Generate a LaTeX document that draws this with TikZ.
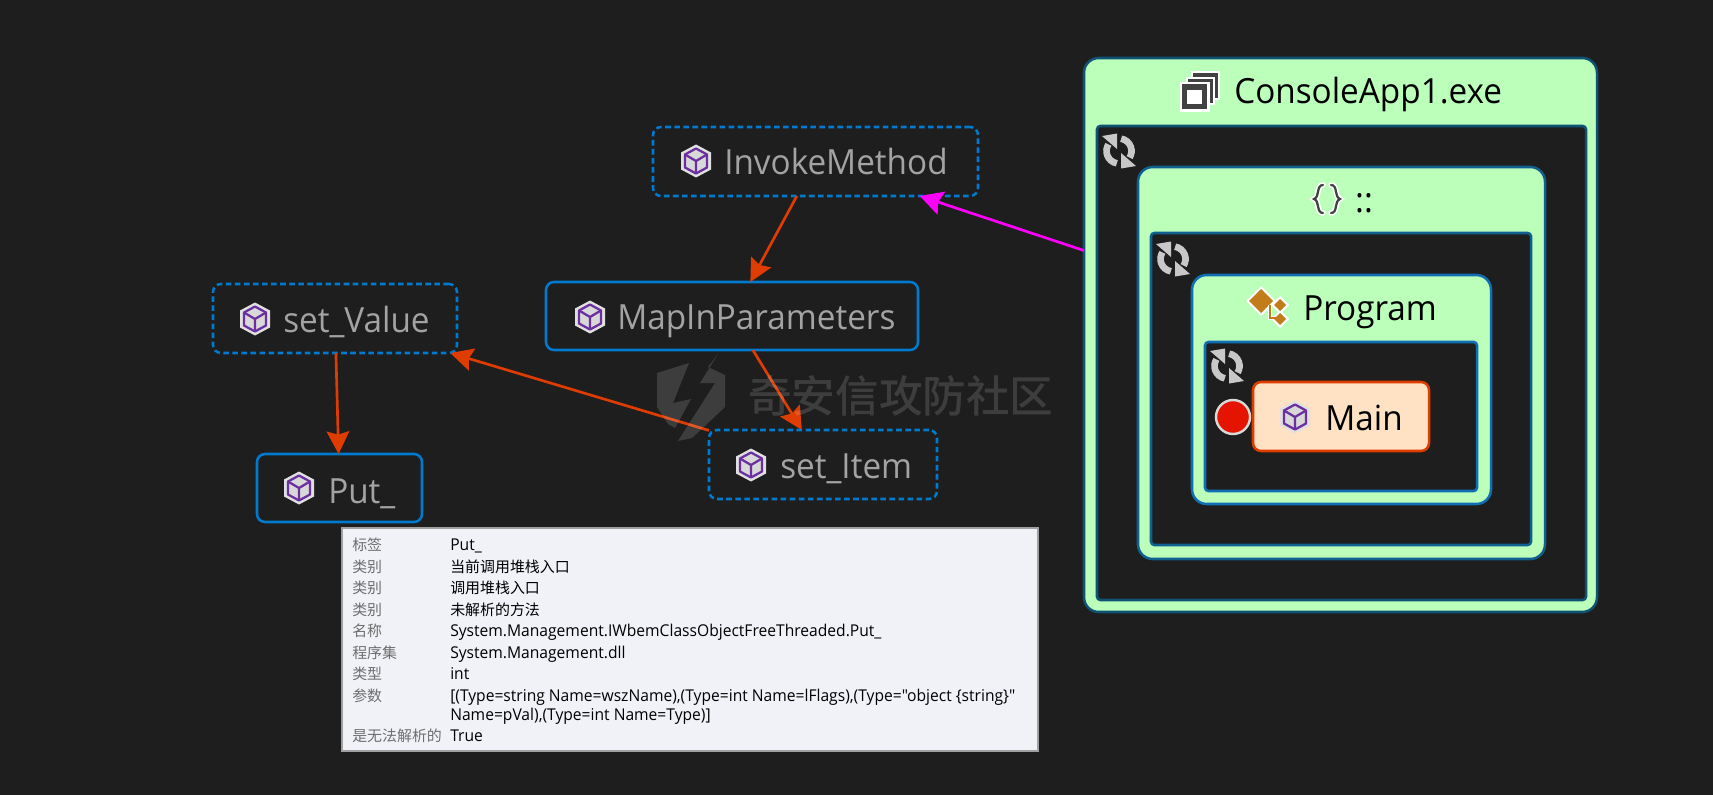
\documentclass[tikz,border=0pt]{standalone}
\usepackage{fontspec}
\setmainfont{Open Sans}[FakeStretch=0.96]
\newfontfamily\plainq{Open Sans}[FakeStretch=0.96]
\newfontfamily\cjk{Noto Sans CJK SC}
\newfontfamily\cjkb{Noto Sans CJK SC Medium}
\usetikzlibrary{arrows.meta,fit}
\definecolor{bgdark}{HTML}{1E1E1E}
\definecolor{nodeblue}{HTML}{007ACC}
\definecolor{edgered}{HTML}{DE3C00}
\definecolor{edgepink}{HTML}{FF00FF}
\definecolor{greenfill}{HTML}{BBFFBB}
\definecolor{bordA}{HTML}{0F5273}
\definecolor{bordB}{HTML}{0F5F8F}
\definecolor{bordC}{HTML}{106EB4}
\definecolor{orangefill}{HTML}{FFE1C4}
\definecolor{dimtext}{HTML}{A3A3A3}
\definecolor{cubepurple}{HTML}{6B2FA0}
\definecolor{cubefill}{HTML}{D8D8D8}
\definecolor{iconbrown}{HTML}{C27D1A}
\definecolor{icondark}{HTML}{424242}
\definecolor{refreshgrey}{HTML}{C8C8C8}
\definecolor{entryred}{HTML}{E51400}
\definecolor{tipfill}{HTML}{F0F2F8}
\definecolor{tipborder}{HTML}{A0A0A0}
\definecolor{tiplabel}{HTML}{6E6E6E}
\tikzset{
  x=0.75pt,y=-0.75pt,
  basebox/.style={inner sep=0pt,outer sep=0pt,line width=1.9pt},
  solidnode/.style={basebox,draw=nodeblue,rounded corners=6pt},
  dashnode/.style={basebox,draw=nodeblue,rounded corners=6pt,dash pattern=on 4.2pt off 2.6pt},
  mainnode/.style={basebox,draw=edgered,fill=orangefill,rounded corners=6pt},
  greenA/.style={basebox,draw=bordA,fill=greenfill,rounded corners=11pt},
  greenB/.style={basebox,draw=bordB,fill=greenfill,rounded corners=11pt},
  greenC/.style={basebox,draw=bordC,fill=greenfill,rounded corners=11pt},
  darkA/.style={basebox,draw=bordA,fill=bgdark,rounded corners=2.5pt},
  darkB/.style={basebox,draw=bordB,fill=bgdark,rounded corners=2.5pt},
  darkC/.style={basebox,draw=bordC,fill=bgdark,rounded corners=2.5pt},
  dimlabel/.style={anchor=base west,inner sep=0pt,text=dimtext,font=\fontsize{26}{30}\selectfont},
  blacklabel/.style={anchor=base west,inner sep=0pt,text=black,font=\fontsize{26}{30}\selectfont},
  redge/.style={draw=edgered,line width=2pt,-{Stealth[length=17pt,width=17pt,inset=2.5pt]}},
  pedge/.style={draw=edgepink,line width=2pt,-{Stealth[length=17pt,width=18pt,inset=2.5pt]}},
  tipkey/.style={anchor=base west,inner sep=0pt,text=tiplabel,font=\cjk\fontsize{11.2}{13}\selectfont},
  tipval/.style={anchor=base west,inner sep=0pt,text=black,font=\plainq\fontsize{12.2}{14}\selectfont},
  tipcjk/.style={anchor=base west,inner sep=0pt,text=black,font=\cjk\fontsize{11.2}{13}\selectfont},
  cubeicon/.pic={
    \fill[white!88!black] (0,-16.5)--(15,-8.5)--(15,8.5)--(0,16.5)--(-15,8.5)--(-15,-8.5)--cycle;
    \draw[cubepurple,line width=1.7pt,fill=cubefill,line join=round]
      (0,-12.5)--(11,-6.5)--(11,6.5)--(0,12.5)--(-11,6.5)--(-11,-6.5)--cycle;
    \draw[cubepurple,line width=1.7pt,line join=round] (-11,-6.5)--(0,0)--(11,-6.5) (0,0)--(0,12.5);
  },
  refreshicon/.pic={
    \fill[refreshgrey] (2,2)--(2,17.5)--(17,15)--cycle;
    \fill[refreshgrey] (-2,-2)--(-2,-17.5)--(-17,-15)--cycle;
    \draw[refreshgrey,line width=5pt] (280:12.5) arc[start angle=280,end angle=392,radius=12.5];
    \draw[refreshgrey,line width=5pt] (100:12.5) arc[start angle=100,end angle=212,radius=12.5];
  }
}
\begin{document}
\begin{tikzpicture}
\useasboundingbox (0,0) rectangle (1713,795);
\fill[bgdark] (0,0) rectangle (1713,795);

% ---- nested containers
\node[greenA,fit={(1084,58)(1597,612)}] (consoleapp) {};
\node[darkA,fit={(1097,126)(1586,600)}] (groupA) {};
\node[greenB,fit={(1138,167)(1545,559)}] (nsbox) {};
\node[darkB,fit={(1151,233)(1531,545)}] (groupB) {};
\node[greenC,fit={(1192,275)(1491,504)}] (progbox) {};
\node[darkC,fit={(1205,342)(1477,491)}] (groupC) {};
\node[mainnode,fit={(1253,382)(1429,451)}] (mainbox) {};

% ---- stack icon
\fill[white] (1191,71) rectangle (1220,100);
\fill[icondark] (1193,73) rectangle (1218,98);
\fill[white] (1186,77) rectangle (1215,105);
\fill[icondark] (1188,79) rectangle (1212.5,103);
\fill[white] (1180,82) rectangle (1210,112);
\fill[icondark] (1182,84) rectangle (1207,109);
\fill[white] (1187,90) rectangle (1202,104);
\node[blacklabel] (t1) at (1234,104) {ConsoleApp1.exe};

% ---- namespace icon
\draw[white,line width=4pt,line cap=round]
  (1323,185) .. controls (1316,185) and (1320,197) .. (1314,199) .. controls (1320,201) and (1316,213) .. (1323,213)
  (1331,185) .. controls (1338,185) and (1334,197) .. (1340,199) .. controls (1334,201) and (1338,213) .. (1331,213);
\draw[icondark,line width=1.7pt,line cap=round]
  (1323,185) .. controls (1316,185) and (1320,197) .. (1314,199) .. controls (1320,201) and (1316,213) .. (1323,213)
  (1331,185) .. controls (1338,185) and (1334,197) .. (1340,199) .. controls (1334,201) and (1338,213) .. (1331,213);
\node[blacklabel,anchor=base] (t2) at (1364,212) {::};

% ---- class icon
\fill[white] (1261,286)--(1276,301)--(1261,316)--(1246,301)--cycle;
\fill[white] (1280,296)--(1289,305)--(1280,314)--(1271,305)--cycle;
\fill[white] (1280,310)--(1289,319)--(1280,328)--(1271,319)--cycle;
\fill[iconbrown] (1261,289)--(1273,301)--(1261,313)--(1249,301)--cycle;
\draw[white,line width=3.5pt] (1270,305)--(1270,318)--(1280,318);
\draw[iconbrown,line width=1.5pt] (1270,305)--(1270,318)--(1280,318);
\fill[iconbrown] (1280,299)--(1286,305)--(1280,311)--(1274,305)--cycle;
\fill[iconbrown] (1280,313)--(1286,319)--(1280,325)--(1274,319)--cycle;
\node[blacklabel] (t3) at (1303,320) {Program};

% ---- refresh icons
\path (1119,151) pic {refreshicon};
\path (1173,259) pic {refreshicon};
\path (1227,366) pic {refreshicon};

% ---- Main
\node[circle,draw=white!85!black,fill=entryred,line width=1.8pt,minimum size=25.5pt,inner sep=0pt] (entry) at (1233,417) {};
\path (1295,417) pic {cubeicon};
\node[blacklabel] (t4) at (1325,430) {Main};

% ---- graph nodes
\node[dashnode,fit={(653,127)(978,196)}] (invoke) {};
\path (696,161) pic {cubeicon};
\node[dimlabel] (t5) at (724,175) {InvokeMethod};

\node[solidnode,fit={(546,282)(918,350)}] (mapin) {};
\path (590,317) pic {cubeicon};
\node[dimlabel] (t6) at (617,329) {MapInParameters};

\node[dashnode,fit={(213,284)(457,353)}] (setvalue) {};
\path (255,319) pic {cubeicon};
\node[dimlabel] (t7) at (283,332) {set\_Value};

\node[dashnode,fit={(709,430)(937,499)}] (setitem) {};
\path (751,465) pic {cubeicon};
\node[dimlabel] (t8) at (780,478) {set\_Item};

\node[solidnode,fit={(257,454)(422,522)}] (put) {};
\path (299,488) pic {cubeicon};
\node[dimlabel] (t9) at (328,503) {Put\_};

% ---- connectors
\draw[redge] (invoke) -- (mapin);
\draw[redge] (mapin) -- (setitem);
\draw[redge] (setitem) -- (setvalue);
\draw[redge] (setvalue) -- (put);
\draw[pedge] (consoleapp) -- (invoke);

% ---- tooltip
\node[basebox,draw=tipborder,fill=tipfill,line width=1.5pt,fit={(342,528)(1038,751)}] (tooltip) {};
\node[tipkey] (k1) at (352,550) {标签};
\node[tipval] (v1) at (450,550) {Put\_};
\node[tipkey] (k2) at (352,572) {类别};
\node[tipcjk] (v2) at (450,572) {当前调用堆栈入口};
\node[tipkey] (k3) at (352,593) {类别};
\node[tipcjk] (v3) at (450,593) {调用堆栈入口};
\node[tipkey] (k4) at (352,615) {类别};
\node[tipcjk] (v4) at (450,615) {未解析的方法};
\node[tipkey] (k5) at (352,636) {名称};
\node[tipval] (v5) at (450,636) {System.Management.IWbemClassObjectFreeThreaded.Put\_};
\node[tipkey] (k6) at (352,658) {程序集};
\node[tipval] (v6) at (450,658) {System.Management.dll};
\node[tipkey] (k7) at (352,679) {类型};
\node[tipval] (v7) at (450,679) {int};
\node[tipkey] (k8) at (352,701) {参数};
\node[tipval] (v8) at (450,701) {[(Type=string Name=wszName),(Type=int Name=lFlags),(Type="object \{string\}"};
\node[tipval] (v9) at (450,720) {Name=pVal),(Type=int Name=Type)]};
\node[tipkey] (k9) at (352,741) {是无法解析的};
\node[tipval] (v10) at (450,741) {True};

% ---- watermark
\fill[white,opacity=0.14] (657,373)--(689,363)--(673,403)--(691,399)--(675,428)--(668,424)--(657,407)--cycle;
\fill[white,opacity=0.14] (718,354)--(700,383)--(715,383)--(678,441)--(692,438)--(725,407)--(725,375)--(708,367)--cycle;
\node[anchor=west,inner sep=0pt,text=white,text opacity=0.14,font=\cjkb\fontsize{32.7}{36}\selectfont] (wm) at (748,396) {奇安信攻防社区};
\end{tikzpicture}
\end{document}
